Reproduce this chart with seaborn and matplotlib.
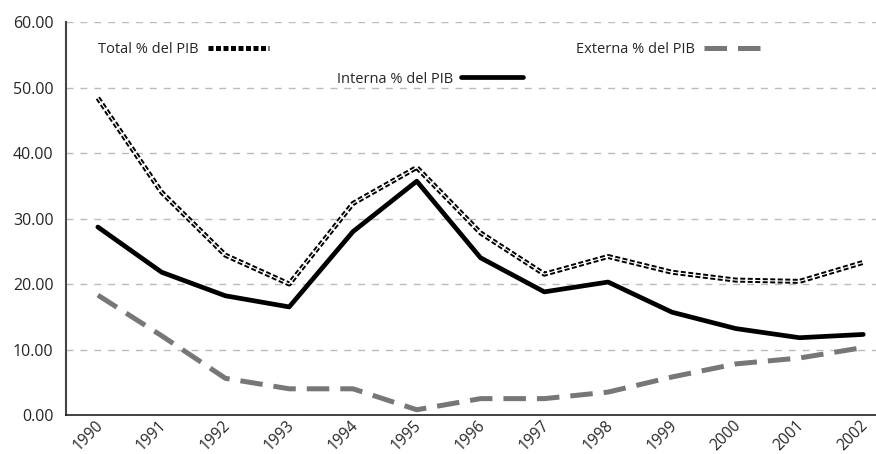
import numpy as np
import pandas as pd
import matplotlib
matplotlib.use("Agg")
import matplotlib.pyplot as plt
import matplotlib.transforms as mtrans
import seaborn as sns
from matplotlib.ticker import FixedLocator

# data
years = ["1990", "1991", "1992", "1993", "1994", "1995", "1996",
         "1997", "1998", "1999", "2000", "2001", "2002"]
total = [48.4, 34.0, 24.4, 20.0, 32.3, 37.8, 27.8, 21.5, 24.2, 21.8, 20.6, 20.4, 23.3]
interna = [28.7, 21.8, 18.2, 16.5, 28.0, 35.7, 24.0, 18.8, 20.3, 15.7, 13.2, 11.8, 12.3]
externa = [18.3, 12.1, 5.6, 4.0, 4.0, 0.8, 2.5, 2.5, 3.5, 5.8, 7.8, 8.7, 10.3]

df = pd.DataFrame({"pos": np.arange(len(years)), "total": total,
                   "interna": interna, "externa": externa})

sns.set_style("white")
plt.rcParams["font.family"] = ["Open Sans", "DejaVu Sans"]

fig = plt.figure(figsize=(8.76, 4.54), dpi=100)
ax = fig.add_axes([0.0753, 0.0859, 0.9247, 0.8656])

# Externa: grey dashes
sns.lineplot(data=df, x="pos", y="externa", ax=ax, color="#777777", lw=3.6,
             label="Externa % del PIB")
ax.lines[-1].set_dashes((4.5, 2.2))
ax.lines[-1].set_solid_capstyle("butt")

# Interna: solid black
sns.lineplot(data=df, x="pos", y="interna", ax=ax, color="black", lw=3.4,
             label="Interna % del PIB")

# Total: black dots with white core
sns.lineplot(data=df, x="pos", y="total", ax=ax, color="black", lw=3.6,
             label="Total % del PIB")
ax.lines[-1].set_dashes((1.0, 0.5))
sns.lineplot(data=df, x="pos", y="total", ax=ax, color="white", lw=0.8,
             label="_core")

ax.set_xlim(-0.5, 12.2)
ax.set_ylim(0, 60)
ax.set_xlabel("")
ax.set_ylabel("")

ax.set_yticks(np.arange(0, 61, 10))
ax.set_yticklabels([f"{v:.2f}" for v in np.arange(0, 61, 10)], fontsize=11.5)
ax.xaxis.set_minor_locator(FixedLocator(np.arange(0.5, 12, 1)))
ax.tick_params(axis="x", which="major", length=0, pad=2)
ax.tick_params(axis="x", which="minor", length=10, width=1, direction="inout", color="#222222")
ax.tick_params(axis="y", length=6, width=1, color="#222222", pad=3, direction="out")
ax.set_xticks(df["pos"])
ax.set_xticklabels(years, rotation=45, ha="center", fontsize=11.2)
# labels sit a little left of the points
shift = mtrans.ScaledTranslation(-10 / 100, 0, fig.dpi_scale_trans)
for lab in ax.get_xticklabels():
    lab.set_transform(lab.get_transform() + shift)

ax.yaxis.grid(True, ls=(0, (5, 5)), color="#bbbbbb", lw=1)
ax.set_axisbelow(True)
for s in ["top", "right"]:
    ax.spines[s].set_visible(False)
ax.spines["left"].set_color("#444444")
ax.spines["left"].set_linewidth(1.5)
ax.spines["bottom"].set_color("#222222")
ax.spines["bottom"].set_linewidth(1.2)

# legends, one entry each
handles, labels = ax.get_legend_handles_labels()
hmap = dict(zip(labels, handles))
ax.get_legend().remove()
common = dict(frameon=False, markerfirst=False, fontsize=10.5, handlelength=4.2,
              handletextpad=0.6, borderaxespad=0, borderpad=0)
l1 = ax.legend([hmap["Total % del PIB"]], ["Total % del PIB"], loc="center left",
               bbox_to_anchor=(0.04, 0.93), **common)
ax.add_artist(l1)
l2 = ax.legend([hmap["Interna % del PIB"]], ["Interna % del PIB"], loc="center left",
               bbox_to_anchor=(0.334, 0.855), **common)
ax.add_artist(l2)
l3 = ax.legend([hmap["Externa % del PIB"]], ["Externa % del PIB"], loc="center left",
               bbox_to_anchor=(0.63, 0.93), **common)

fig.savefig("out.png", dpi=100)
